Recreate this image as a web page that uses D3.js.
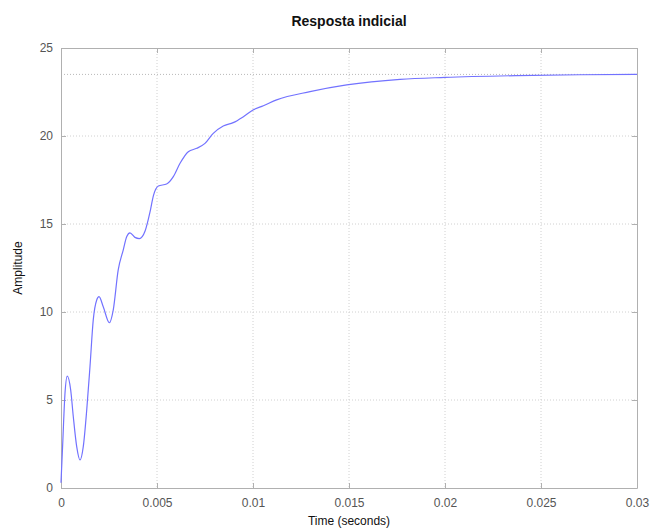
<!DOCTYPE html>
<html>
<head>
<meta charset="UTF-8">
<title>Resposta indicial</title>
<script src="https://cdn.jsdelivr.net/npm/d3@7"></script>
<style>
    body { margin: 0; background: #fff; }
    svg { font-family: "Liberation Sans", Arial, sans-serif; }
    .tick text { fill: #555; font-size: 12px; }
</style>
</head>
<body>
<svg id="chart" width="652" height="528"></svg>
<script>
// step response (time in seconds, amplitude)
var time = [0, 0.0000885, 0.000208, 0.000328, 0.000505, 0.000641, 0.000818, 0.00099,
    0.00116, 0.00134, 0.00151, 0.00168, 0.00186, 0.00198, 0.0022, 0.00252,
    0.00272, 0.00298, 0.00324, 0.00342, 0.00359, 0.00385, 0.00408, 0.00438,
    0.00464, 0.00481, 0.00507, 0.0055, 0.00585, 0.0062, 0.00663, 0.00707,
    0.0075, 0.00793, 0.00845, 0.00897, 0.0095, 0.01, 0.01054, 0.01123,
    0.01297, 0.01488, 0.01766, 0.02, 0.02374, 0.027, 0.03];
var amplitude = [0.3, 2.5, 5.38, 6.36, 5.57, 4.05, 2.35, 1.59,
    2.35, 4.43, 6.9, 9.55, 10.68, 10.87, 10.3, 9.39,
    10.11, 12.39, 13.52, 14.28, 14.5, 14.24, 14.17, 14.6,
    15.7, 16.6, 17.16, 17.27, 17.69, 18.45, 19.11, 19.3,
    19.58, 20.15, 20.57, 20.76, 21.1, 21.48, 21.72, 22.05,
    22.52, 22.9, 23.22, 23.33, 23.43, 23.48, 23.5];
var steadyState = 23.5;
var xTicks = [0, 0.005, 0.01, 0.015, 0.02, 0.025, 0.03];
var yTicks = [0, 5, 10, 15, 20, 25];

var svg = d3.select("#chart");
var pLeft = 61, pRight = 637, pTop = 48, pBottom = 488;

var x = d3.scaleLinear().domain([0, 0.03]).range([pLeft, pRight]);
var y = d3.scaleLinear().domain([0, 25]).range([pBottom, pTop]);

// grid
var grid = svg.append("g").attr("stroke", "#d0d0d0").attr("stroke-dasharray", "1,2");
grid.selectAll(".gx").data(xTicks.slice(1, -1)).enter().append("line")
    .attr("x1", function (d) { return x(d); }).attr("x2", function (d) { return x(d); })
    .attr("y1", pTop).attr("y2", pBottom);
grid.selectAll(".gy").data(yTicks.slice(1, -1)).enter().append("line")
    .attr("y1", function (d) { return y(d); }).attr("y2", function (d) { return y(d); })
    .attr("x1", pLeft).attr("x2", pRight);

// steady state line
svg.append("line")
    .attr("x1", pLeft).attr("x2", pRight)
    .attr("y1", y(steadyState)).attr("y2", y(steadyState))
    .attr("stroke", "#b8b8b8").attr("stroke-dasharray", "1,2");

// axes
function fmt(d) { return d3.format("~g")(d); }
svg.append("g").attr("transform", "translate(0," + pBottom + ")")
    .call(d3.axisBottom(x).tickValues(xTicks).tickFormat(fmt).tickSizeInner(-5).tickSizeOuter(0).tickPadding(10));
svg.append("g").attr("transform", "translate(" + pLeft + ",0)")
    .call(d3.axisLeft(y).tickValues(yTicks).tickFormat(fmt).tickSizeInner(-5).tickSizeOuter(0).tickPadding(8));
svg.append("g").attr("transform", "translate(0," + pTop + ")")
    .call(d3.axisTop(x).tickValues(xTicks).tickFormat("").tickSizeInner(-5).tickSizeOuter(0));
svg.append("g").attr("transform", "translate(" + pRight + ",0)")
    .call(d3.axisRight(y).tickValues(yTicks).tickFormat("").tickSizeInner(-5).tickSizeOuter(0));
svg.selectAll(".domain, .tick line").attr("stroke", "#b0b0b0");

// response curve
var line = d3.line()
    .x(function (d) { return x(d[0]); })
    .y(function (d) { return y(d[1]); })
    .curve(d3.curveMonotoneX);
svg.append("path")
    .datum(d3.zip(time, amplitude))
    .attr("d", line)
    .attr("fill", "none")
    .attr("stroke", "#7272ff")
    .attr("stroke-width", 1.2);

// labels
svg.append("text").attr("x", (pLeft + pRight) / 2).attr("y", 26)
    .attr("text-anchor", "middle").attr("font-size", 14).attr("font-weight", "bold")
    .attr("fill", "#111").text("Resposta indicial");
svg.append("text").attr("x", (pLeft + pRight) / 2).attr("y", 525)
    .attr("text-anchor", "middle").attr("font-size", 12).attr("fill", "#111")
    .text("Time (seconds)");
svg.append("text").attr("transform", "translate(22," + ((pTop + pBottom) / 2) + ") rotate(-90)")
    .attr("text-anchor", "middle").attr("font-size", 12).attr("fill", "#111")
    .text("Amplitude");
</script>
</body>
</html>
